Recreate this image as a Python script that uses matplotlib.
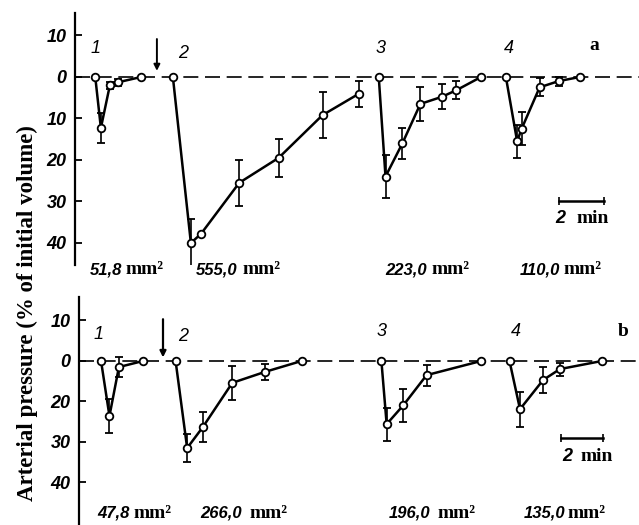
import matplotlib
matplotlib.use("Agg")
import matplotlib.pyplot as plt

# panel a (upper) - time in min, response in % (negative = fall)
a1_t = [0.9, 1.15, 1.55, 1.9, 2.95]
a1_v = [0, -12.3, -2.0, -1.3, 0]
a1_e = [0, 3.5, 0.8, 0.8, 0]
a2_t = [4.35, 5.15, 5.6, 7.3, 9.05, 11.0, 12.6]
a2_v = [0, -40.0, -37.8, -25.5, -19.5, -9.2, -4.1]
a2_e = [0, 5.8, 0, 5.5, 4.5, 5.5, 3.1]
a3_t = [13.5, 13.8, 14.55, 15.35, 16.3, 16.95, 18.05]
a3_v = [0, -24.0, -16.0, -6.5, -4.8, -3.2, 0]
a3_e = [0, 5.2, 3.8, 4.0, 3.0, 2.2, 0]
a4_t = [19.15, 19.65, 19.85, 20.65, 21.5, 22.45]
a4_v = [0, -15.5, -12.5, -2.5, -1.0, 0]
a4_e = [0, 4.0, 4.0, 2.2, 1.1, 0]

# panel b (lower)
b1_t = [1.05, 1.45, 1.9, 3.05]
b1_v = [0, -13.6, -1.5, 0]
b1_e = [0, 4.2, 2.5, 0]
b2_t = [4.6, 5.15, 5.9, 7.3, 8.85, 10.6]
b2_v = [0, -21.5, -16.3, -5.4, -2.7, 0]
b2_e = [0, 3.5, 3.6, 4.2, 2.0, 0]
b3_t = [14.4, 14.65, 15.45, 16.55, 19.15]
b3_v = [0, -15.6, -10.9, -3.5, 0]
b3_e = [0, 4.1, 4.1, 2.6, 0]
b4_t = [20.5, 21.0, 22.1, 22.9, 24.9]
b4_v = [0, -11.9, -4.7, -2.0, 0]
b4_e = [0, 4.3, 3.2, 1.6, 0]

a_ticks = [10, 0, -10, -20, -30, -40]
a_ticklabels = ["10", "0", "10", "20", "30", "40"]
b_ticks = [10, 0, -10, -20, -30]
b_ticklabels = ["10", "0", "20", "30", "40"]

a_areas = ["51,8", "555,0", "223,0", "110,0"]
b_areas = ["47,8", "266,0", "196,0", "135,0"]

W, H = 639, 525
fig = plt.figure(figsize=(W / 100, H / 100), dpi=100)
fig.patch.set_facecolor("white")

numfont = dict(family="Liberation Sans", style="italic", weight="bold")
serif = dict(family="Liberation Serif", weight="bold")


def px_axes(x0, y0, x1, y1):
    return fig.add_axes([x0 / W, 1 - y1 / H, (x1 - x0) / W, (y1 - y0) / H])


def draw_panel(ax, series, ticks, ticklabels, ylim, xlim):
    ax.axhline(0, color="black", lw=1.2, ls=(0, (9, 4)), zorder=1)
    for t, v, e in series:
        ax.errorbar(t, v, yerr=e, color="black", lw=1.8, elinewidth=1.2,
                    capsize=3, capthick=1.2, marker="o", ms=5.5,
                    mfc="white", mec="black", mew=1.3, zorder=3)
    ax.set_xlim(*xlim)
    ax.set_ylim(*ylim)
    for s in ["top", "right", "bottom"]:
        ax.spines[s].set_visible(False)
    ax.spines["left"].set_linewidth(1.6)
    ax.set_xticks([])
    ax.set_yticks(ticks)
    ax.set_yticklabels(ticklabels, **numfont, fontsize=13)
    ax.tick_params(axis="y", direction="in", length=5, width=1.3, pad=6)
    ax.set_facecolor("none")


ax1 = px_axes(75, 13, 639, 265)
draw_panel(ax1, [(a1_t, a1_v, a1_e), (a2_t, a2_v, a2_e),
                 (a3_t, a3_v, a3_e), (a4_t, a4_v, a4_e)],
           a_ticks, a_ticklabels, (-45.3, 15.4), (0, 564 / 22.5))

ax2 = px_axes(79, 297, 639, 525)
draw_panel(ax2, [(b1_t, b1_v, b1_e), (b2_t, b2_v, b2_e),
                 (b3_t, b3_v, b3_e), (b4_t, b4_v, b4_e)],
           b_ticks, b_ticklabels, (-40.5, 15.8), (0, 560 / 21))

# series numbers and panel letters
for ax, pos, letter in [
    (ax1, [(0.9, 4.8), (4.8, 3.6), (13.6, 4.8), (19.3, 4.8)], (23.1, 5.5)),
    (ax2, [(0.95, 4.4), (4.95, 4.0), (14.4, 5.2), (20.8, 5.2)], (25.9, 5.2)),
]:
    for i, (x, y) in enumerate(pos):
        ax.text(x, y, str(i + 1), ha="center", va="bottom", fontsize=13,
                family="Liberation Sans", style="italic")
    ax.text(letter[0], letter[1], "a" if ax is ax1 else "b", ha="center",
            va="bottom", fontsize=14, **serif)

# arrows
ax1.annotate("", xy=(3.64, 0.8), xytext=(3.64, 9.8),
             arrowprops=dict(arrowstyle="-|>", color="black", lw=1.4,
                             mutation_scale=9))
ax2.annotate("", xy=(4.0, 0.2), xytext=(4.0, 11.0),
             arrowprops=dict(arrowstyle="-|>", color="black", lw=1.6,
                             mutation_scale=9))

# 2 min scale bars
for ax, x0, x1, y, ty, tx, tm in [(ax1, 21.5, 23.5, -29.9, -34.2, 21.33, 22.3),
                                  (ax2, 22.95, 24.95, -19.0, -23.7, 23.0, 23.86)]:
    ax.errorbar([x0, x1], [y, y], yerr=[1.0, 1.0], color="black", lw=1.8,
                elinewidth=1.2, capsize=0)
    ax.text(tx, ty, "2", ha="left", va="center", fontsize=13, **numfont)
    ax.text(tm, ty, "min", ha="left", va="center", fontsize=14, **serif)

# areas under curves (number end, unit start)
for y, xs, labels in [(270, [(122, 125), (237, 242), (427, 432), (560, 563)], a_areas),
                      (513, [(130, 133), (242, 250), (430, 438), (565, 568)], b_areas)]:
    for (xn, xm), lab in zip(xs, labels):
        fig.text(xn / W, 1 - y / H, lab, ha="right", va="center",
                 fontsize=12, **numfont)
        fig.text(xm / W, 1 - y / H, "mm\u00b2", ha="left", va="center",
                 fontsize=14, **serif)

fig.text(27 / W, 1 - 313 / H, "Arterial pressure (% of initial volume)",
         rotation=90, ha="center", va="center", fontsize=16.5, **serif)

fig.savefig("out.png", dpi=100)
